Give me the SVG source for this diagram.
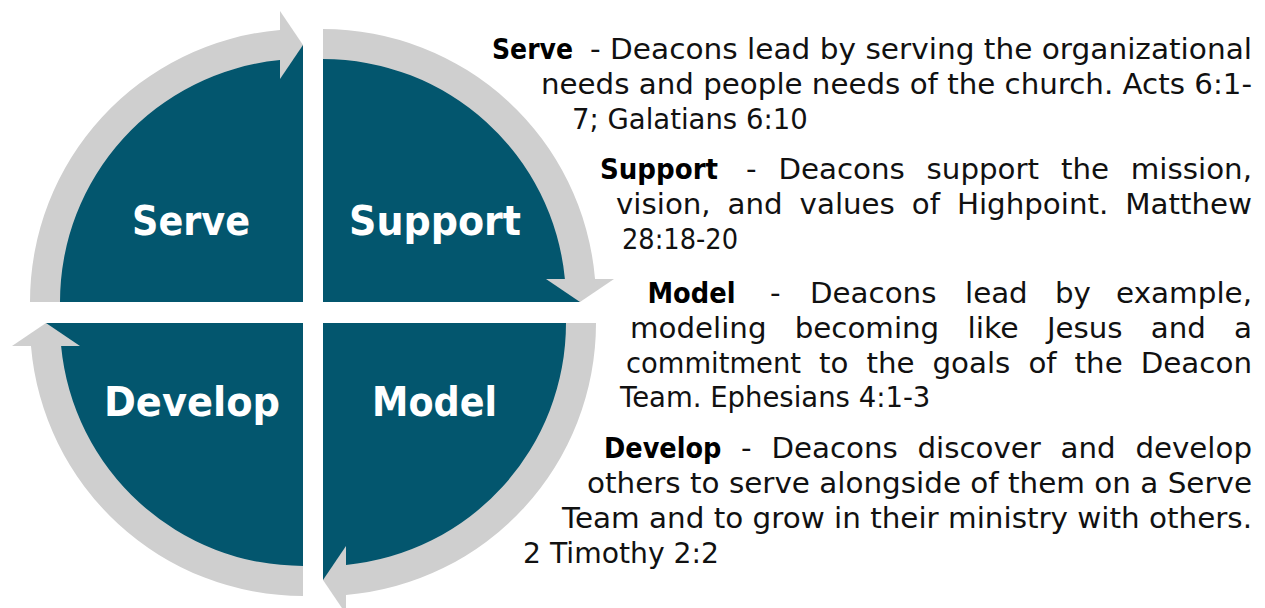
<svg xmlns="http://www.w3.org/2000/svg" width="1265" height="608" viewBox="0 0 1265 608">
<style>
.q{fill:#03566E}
.band{fill:#CFCFCF}
.lbl{font-family:"DejaVu Sans",sans-serif;font-weight:bold;font-size:40px;fill:#fff}
.body{font-family:"DejaVu Sans",sans-serif;font-size:27.5px;fill:#111}
.b{font-weight:bold;fill:#000}
</style>
<rect width="1265" height="608" fill="#fff"/>
<g id="node-serve">
<path class="q" d="M303 302 L46 302 A257 257 0 0 1 303 45 Z"/>
<text class="lbl" x="132" y="235" textLength="118" lengthAdjust="spacingAndGlyphs">Serve</text>
</g>
<g id="node-support">
<path class="q" d="M323 302 L323 45 A257 257 0 0 1 580 302 Z"/>
<text class="lbl" x="349" y="235" textLength="172" lengthAdjust="spacingAndGlyphs">Support</text>
</g>
<g id="node-model">
<path class="q" d="M323 323 L580 323 A257 257 0 0 1 323 580 Z"/>
<text class="lbl" x="372" y="416" textLength="125" lengthAdjust="spacingAndGlyphs">Model</text>
</g>
<g id="node-develop">
<path class="q" d="M303 323 L303 580 A257 257 0 0 1 46 323 Z"/>
<text class="lbl" x="104" y="416" textLength="176" lengthAdjust="spacingAndGlyphs">Develop</text>
</g>
<g id="connectors">
<path class="band" d="M30 302 A273 273 0 0 1 280 29.97 L280 60.1 A243 243 0 0 0 60 302 Z"/>
<path class="band" d="M280 11 L303 45 L280 79 Z"/>
<path class="band" d="M323 29 A273 273 0 0 1 595.03 279 L564.9 279 A243 243 0 0 0 323 59 Z"/>
<path class="band" d="M546 279 L614 279 L580 302 Z"/>
<path class="band" d="M596 323 A273 273 0 0 1 346 595.03 L346 564.9 A243 243 0 0 0 566 323 Z"/>
<path class="band" d="M346 546 L323 580 L346 614 Z"/>
<path class="band" d="M303 596 A273 273 0 0 1 30.97 346 L61.1 346 A243 243 0 0 0 303 566 Z"/>
<path class="band" d="M12 346 L46 323 L80 346 Z"/>
</g>
<g id="desc-serve" class="body">
<text y="58.5"><tspan class="b" x="492" textLength="81" lengthAdjust="spacingAndGlyphs">Serve</tspan> <tspan x="590" textLength="662" lengthAdjust="spacingAndGlyphs">- Deacons lead by serving the organizational</tspan></text>
<text x="541" y="93.5" textLength="711" lengthAdjust="spacingAndGlyphs">needs and people needs of the church. Acts 6:1-</text>
<text x="572" y="128.5">7; Galatians 6:10</text>
</g>
<g id="desc-support" class="body">
<text y="178.5"><tspan class="b" x="600" textLength="118" lengthAdjust="spacingAndGlyphs">Support</tspan> <tspan x="746" textLength="10.6" lengthAdjust="spacingAndGlyphs">-</tspan> <tspan x="778.4" textLength="126.4" lengthAdjust="spacingAndGlyphs">Deacons</tspan> <tspan x="926.6" textLength="112.5" lengthAdjust="spacingAndGlyphs">support</tspan> <tspan x="1060.9" textLength="48.1" lengthAdjust="spacingAndGlyphs">the</tspan> <tspan x="1130.8" textLength="121.2" lengthAdjust="spacingAndGlyphs">mission,</tspan></text>
<text y="213.5"><tspan x="616" textLength="94.7" lengthAdjust="spacingAndGlyphs">vision,</tspan> <tspan x="727.6" textLength="55.1" lengthAdjust="spacingAndGlyphs">and</tspan> <tspan x="799.6" textLength="95.3" lengthAdjust="spacingAndGlyphs">values</tspan> <tspan x="911.8" textLength="28.2" lengthAdjust="spacingAndGlyphs">of</tspan> <tspan x="956.9" textLength="151.4" lengthAdjust="spacingAndGlyphs">Highpoint.</tspan> <tspan x="1125.2" textLength="126.8" lengthAdjust="spacingAndGlyphs">Matthew</tspan></text>
<text x="622" y="248.5" textLength="116" lengthAdjust="spacingAndGlyphs">28:18-20</text>
</g>
<g id="desc-model" class="body">
<text y="302.5"><tspan class="b" x="647.5" textLength="88" lengthAdjust="spacingAndGlyphs">Model</tspan> <tspan x="770" textLength="10.6" lengthAdjust="spacingAndGlyphs">-</tspan> <tspan x="810" textLength="126.4" lengthAdjust="spacingAndGlyphs">Deacons</tspan> <tspan x="965" textLength="62.7" lengthAdjust="spacingAndGlyphs">lead</tspan> <tspan x="1055" textLength="35.9" lengthAdjust="spacingAndGlyphs">by</tspan> <tspan x="1116.1" textLength="135.9" lengthAdjust="spacingAndGlyphs">example,</tspan></text>
<text y="337.5"><tspan x="630" textLength="136.5" lengthAdjust="spacingAndGlyphs">modeling</tspan> <tspan x="794.7" textLength="144.5" lengthAdjust="spacingAndGlyphs">becoming</tspan> <tspan x="967.4" textLength="51.3" lengthAdjust="spacingAndGlyphs">like</tspan> <tspan x="1046.9" textLength="75.7" lengthAdjust="spacingAndGlyphs">Jesus</tspan> <tspan x="1150.8" textLength="55.1" lengthAdjust="spacingAndGlyphs">and</tspan> <tspan x="1234.1" textLength="18" lengthAdjust="spacingAndGlyphs">a</tspan></text>
<text y="372.5"><tspan x="626" textLength="175" lengthAdjust="spacingAndGlyphs">commitment</tspan> <tspan x="819" textLength="29.4" lengthAdjust="spacingAndGlyphs">to</tspan> <tspan x="866.4" textLength="48.1" lengthAdjust="spacingAndGlyphs">the</tspan> <tspan x="932.5" textLength="77.9" lengthAdjust="spacingAndGlyphs">goals</tspan> <tspan x="1028.4" textLength="28.2" lengthAdjust="spacingAndGlyphs">of</tspan> <tspan x="1074.6" textLength="48.1" lengthAdjust="spacingAndGlyphs">the</tspan> <tspan x="1140.7" textLength="111.3" lengthAdjust="spacingAndGlyphs">Deacon</tspan></text>
<text x="620" y="407">Team. Ephesians 4:1-3</text>
</g>
<g id="desc-develop" class="body">
<text y="458"><tspan class="b" x="604" textLength="117.4" lengthAdjust="spacingAndGlyphs">Develop</tspan> <tspan x="741.1" textLength="10.6" lengthAdjust="spacingAndGlyphs">-</tspan> <tspan x="771.4" textLength="126.4" lengthAdjust="spacingAndGlyphs">Deacons</tspan> <tspan x="917.5" textLength="123.4" lengthAdjust="spacingAndGlyphs">discover</tspan> <tspan x="1060.6" textLength="55.1" lengthAdjust="spacingAndGlyphs">and</tspan> <tspan x="1135.4" textLength="116.6" lengthAdjust="spacingAndGlyphs">develop</tspan></text>
<text x="587" y="493" textLength="665" lengthAdjust="spacingAndGlyphs">others to serve alongside of them on a Serve</text>
<text x="562" y="528" textLength="690" lengthAdjust="spacingAndGlyphs">Team and to grow in their ministry with others.</text>
<text x="523" y="563" textLength="196" lengthAdjust="spacingAndGlyphs">2 Timothy 2:2</text>
</g>
</svg>
